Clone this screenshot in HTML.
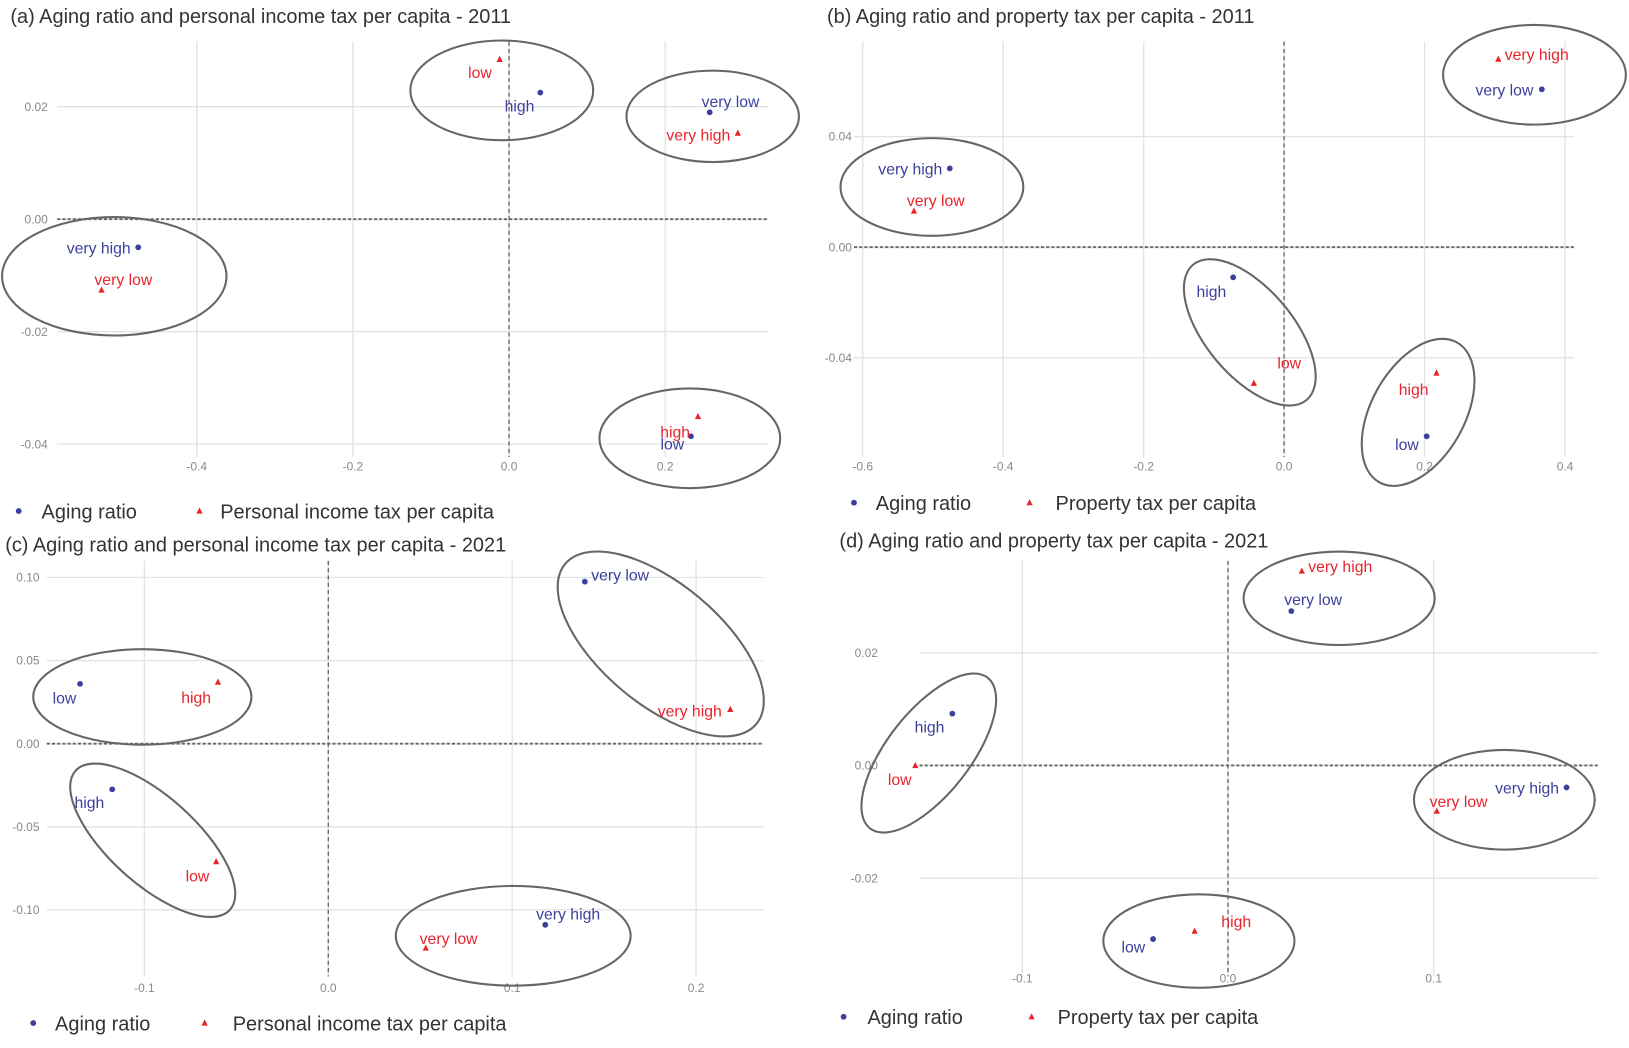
<!DOCTYPE html>
<html><head><meta charset="utf-8"><style>
html,body{margin:0;padding:0;background:#fff;}
svg{display:block;font-family:"Liberation Sans",Arial,sans-serif;}
</style></head><body>
<svg id="fig" width="1629" height="1048" viewBox="0 0 1568 1009" preserveAspectRatio="none" xmlns="http://www.w3.org/2000/svg"></svg>
<script>
// ---- data (a) ----
const aCats = ["very low","low","high","very high"];
const aAgingX = [0.257, 0.233, 0.040, -0.475];
const aAgingY = [0.019, -0.0386, 0.0225, -0.005];
const aTaxX = [-0.522, -0.012, 0.242, 0.293];
const aTaxY = [-0.0126, 0.0284, -0.0351, 0.0153];
const aXTicks = [-0.4, -0.2, 0.0, 0.2];
const aYTicks = [-0.04, -0.02, 0.00, 0.02];
// ---- data (b) ----
const bCats = ["very low","low","high","very high"];
const bAgingX = [0.367, 0.203, -0.0725, -0.476];
const bAgingY = [0.0571, -0.0684, -0.0109, 0.0285];
const bTaxX = [-0.527, -0.043, 0.217, 0.305];
const bTaxY = [0.0131, -0.0492, -0.0455, 0.068];
const bXTicks = [-0.6, -0.4, -0.2, 0.0, 0.2, 0.4];
const bYTicks = [-0.04, 0.00, 0.04];
// ---- data (c) ----
const cCats = ["very low","low","high","very high"];
const cAgingX = [0.1395, -0.135, -0.1175, 0.118];
const cAgingY = [0.0975, 0.036, -0.0275, -0.109];
const cTaxX = [0.053, -0.061, -0.06, 0.2186];
const cTaxY = [-0.123, -0.071, 0.037, 0.0206];
const cXTicks = [-0.1, 0.0, 0.1, 0.2];
const cYTicks = [-0.10, -0.05, 0.00, 0.05, 0.10];
// ---- data (d) ----
const dCats = ["very low","low","high","very high"];
const dAgingX = [0.0308, -0.0364, -0.134, 0.1646];
const dAgingY = [0.0274, -0.0308, 0.0092, -0.0039];
const dTaxX = [0.1015, -0.152, -0.0162, 0.0359];
const dTaxY = [-0.0081, 0.0, -0.0294, 0.0345];
const dXTicks = [-0.1, 0.0, 0.1];
const dYTicks = [-0.02, 0.00, 0.02];

const NS = "http://www.w3.org/2000/svg";
const svg = document.getElementById('fig');
function mk(tag, attrs, parent){const e=document.createElementNS(NS,tag);for(const k in attrs)e.setAttribute(k,attrs[k]);(parent||svg).appendChild(e);return e;}
const BLUE="#3c409c", RED="#e8242c";

const panels = [
 {id:"a", title:"(a) Aging ratio and personal income tax per capita - 2011", tx:10, ty:22,
  cats:aCats, ax:aAgingX, ay:aAgingY, tX:aTaxX, tY:aTaxY, xt:aXTicks, yt:aYTicks, yfmt:2, xfmt:1,
  x0:490, xs:751.5, y0:211, ys:5415, L:55, R:740, T:40, B:440, xly:453, ylx:46,
  aOff:[[20,-10],[-18,8],[-20,13],[-38,1]], tOff:[[21,-10],[-19,13],[-22,15],[-38,2]],
  ell:[[483,87,88,48,0],[686,112,83,44,0],[110,266,108,57,0],[664,422,87,48,0]],
  leg:[18,492,40,192,212], tax:"Personal income tax per capita"},
 {id:"b", title:"(b) Aging ratio and property tax per capita - 2011", tx:796, ty:22,
  cats:bCats, ax:bAgingX, ay:bAgingY, tX:bTaxX, tY:bTaxY, xt:bXTicks, yt:bYTicks, yfmt:2, xfmt:1,
  x0:1236, xs:676, y0:238, ys:2662, L:822, R:1515, T:40, B:440, xly:453, ylx:820,
  aOff:[[-36,1],[-19,8],[-21,14],[-38,1]], tOff:[[21,-10],[34,-19],[-22,16],[37,-4]],
  ell:[[1203,320,85,42,50],[1365,397,77,45,-61],[1477,72,88,48,0],[897,180,88,47,0]],
  leg:[822,484,843,991,1016], tax:"Property tax per capita"},
 {id:"c", title:"(c) Aging ratio and personal income tax per capita - 2021", tx:5, ty:531,
  cats:cCats, ax:cAgingX, ay:cAgingY, tX:cTaxX, tY:cTaxY, xt:cXTicks, yt:cYTicks, yfmt:2, xfmt:1,
  x0:316, xs:1770, y0:716, ys:1600, L:45, R:735, T:540, B:940, xly:955, ylx:38,
  aOff:[[34,-6],[-15,14],[-22,13],[22,-10]], tOff:[[22,-9],[-18,14],[-21,15],[-39,2]],
  ell:[[636,620,120,58,40],[137,671,105,46,0],[147,809,100,42,42],[494,901,113,48,0]],
  leg:[32,985,53,197,224], tax:"Personal income tax per capita"},
 {id:"d", title:"(d) Aging ratio and property tax per capita - 2021", tx:808, ty:527,
  cats:dCats, ax:dAgingX, ay:dAgingY, tX:dTaxX, tY:dTaxY, xt:dXTicks, yt:dYTicks, yfmt:2, xfmt:1,
  x0:1182, xs:1980, y0:737, ys:5425, L:885, R:1538, T:540, B:940, xly:946, ylx:845,
  aOff:[[21,-11],[-19,8],[-22,13],[-38,1]], tOff:[[21,-9],[-15,14],[40,-9],[37,-4]],
  ell:[[1289,576,92,45,0],[894,725,92,40,-52],[1448,770,87,48,0],[1154,906,92,45,0]],
  leg:[812,979,835,993,1018], tax:"Property tax per capita"}
];

function fmt(v,d){let s=v.toFixed(d); if(Math.abs(v)<1e-9) s=(0).toFixed(d); return s;}

panels.forEach(p=>{
  const X=v=>p.x0+v*p.xs, Y=v=>p.y0-v*p.ys;
  const g=mk('g',{});
  
  
  const t=mk('text',{x:p.tx,y:p.ty,'font-size':19.2,fill:'#333'},g); t.textContent=p.title;
   
  p.xt.forEach(v=>{
    const l=mk('line',{x1:X(v),x2:X(v),y1:p.T,y2:p.B,stroke:'#e3e3e3','stroke-width':1.3},g);
     
    const tl=mk('text',{x:X(v),y:p.xly,'font-size':11.5,fill:'#888','text-anchor':'middle'},g); tl.textContent=fmt(v,p.xfmt);
     
  });
  p.yt.forEach(v=>{
    const l=mk('line',{x1:p.L,x2:p.R,y1:Y(v),y2:Y(v),stroke:'#e3e3e3','stroke-width':1.3},g);
     
    const tl=mk('text',{x:p.ylx,y:Y(v)+4,'font-size':11.5,fill:'#888','text-anchor':'end'},g); tl.textContent=fmt(v,p.yfmt);
     
  });
  const h=mk('line',{x1:p.L,x2:p.R,y1:Y(0),y2:Y(0),stroke:'#666','stroke-width':1.8,'stroke-dasharray':'3,2'},g);
   
  const vl=mk('line',{x1:X(0),x2:X(0),y1:p.T,y2:p.B,stroke:'#666','stroke-width':1.3,'stroke-dasharray':'4,3'},g);
   
  p.ell.forEach(e=>{
    const el=mk('ellipse',{cx:e[0],cy:e[1],rx:e[2],ry:e[3],transform:`rotate(${e[4]} ${e[0]} ${e[1]})`,fill:'none',stroke:'#666','stroke-width':2},g);
     
  });
  p.cats.forEach((c,i)=>{
    const px=X(p.ax[i]), py=Y(p.ay[i]);
    const pt=mk('circle',{cx:px,cy:py,r:2.8,fill:BLUE},g);
     
    const lb=mk('text',{x:px+p.aOff[i][0],y:py+p.aOff[i][1]+5,'font-size':15.2,fill:BLUE,'text-anchor':'middle'},g); lb.textContent=c;
     
    const qx=X(p.tX[i]), qy=Y(p.tY[i]);
    const tr=mk('polygon',{points:`${qx},${qy-3.5} ${qx-3},${qy+2.5} ${qx+3},${qy+2.5}`,fill:RED},g);
     
    const lt=mk('text',{x:qx+p.tOff[i][0],y:qy+p.tOff[i][1]+5,'font-size':15.2,fill:RED,'text-anchor':'middle'},g); lt.textContent=c;
     
  });
  const lg=p.leg;
  const ld=mk('circle',{cx:lg[0],cy:lg[1],r:2.8,fill:BLUE},g);
   
  const lt1=mk('text',{x:lg[2],y:lg[1]+7,'font-size':19.2,fill:'#333'},g); lt1.textContent='Aging ratio';
   
  const q=lg[3], r=lg[1];
  const ltr=mk('polygon',{points:`${q},${r-3.5} ${q-3},${r+2.5} ${q+3},${r+2.5}`,fill:RED},g);
   
  const lt2=mk('text',{x:lg[4],y:lg[1]+7,'font-size':19.2,fill:'#333'},g); lt2.textContent=p.tax;
   
});
</script>
</body></html>
